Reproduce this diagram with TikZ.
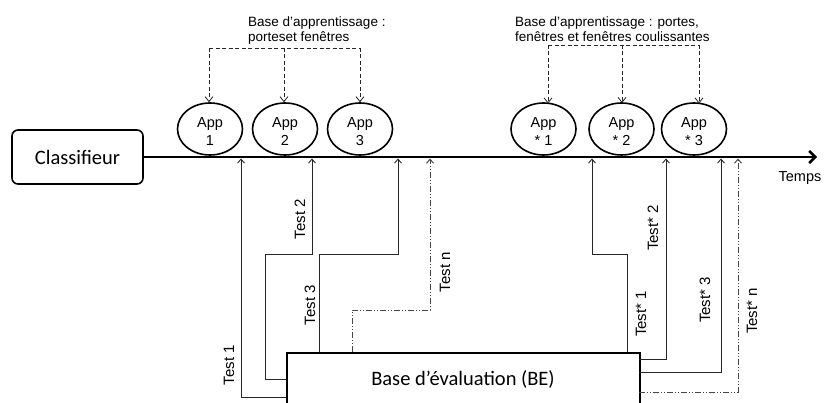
\documentclass[tikz,border=0pt]{standalone}
\usepackage{fontspec}
\setmainfont{Liberation Sans}
\newfontfamily\calfont{Carlito}
\usetikzlibrary{arrows.meta,shapes.geometric}
\begin{document}
\begin{tikzpicture}[x=1pt,y=-1pt,
  appnode/.style={draw,ellipse,line width=1.6pt,minimum width=65pt,minimum height=52pt,inner sep=0pt},
  apptext/.style={align=center,inner sep=0pt,yshift=-3pt,font=\fontsize{14.5}{18}\selectfont},
  testline/.style={line width=0.9pt,draw=black!85,-{Straight Barb[length=4pt,width=7pt]}},
  testn/.style={line width=1pt,draw=black!72,dash pattern=on 6pt off 2pt on 1pt off 2pt on 1pt off 2pt,-{Straight Barb[length=4pt,width=7pt]}},
  learn/.style={line width=0.8pt,draw=black!85,dash pattern=on 4pt off 2.5pt},
  learnarrow/.style={learn,-{Straight Barb[length=5pt,width=8pt]}},
  testlabel/.style={rotate=90,inner sep=0pt,font=\fontsize{15}{15}\selectfont},
  toptext/.style={anchor=base west,inner sep=0pt,font=\fontsize{13.5}{15}\selectfont}]
\useasboundingbox (0,0) rectangle (826,403);

% classifier and time axis
\node[draw,rounded corners=6pt,line width=1.6pt,minimum width=131pt,minimum height=54pt,font=\calfont\fontsize{20.5}{22}\selectfont] (cls) at (77.5,157) {Classifieur};
\coordinate (axend) at (817,157);
\draw[line width=2.5pt,-{Straight Barb[length=6pt,width=12pt]}] (cls.east) -- (axend);
\node[font=\fontsize{14.5}{16}\selectfont] (temps) at (800,178) {Temps};

% learning nodes
\node[appnode,label={[apptext]center:App\\1}] (a1) at (210,129) {};
\node[appnode,label={[apptext]center:App\\2}] (a2) at (285,129) {};
\node[appnode,label={[apptext]center:App\\3}] (a3) at (360,129) {};
\node[appnode,label={[apptext]center:App\\* 1}] (b1) at (543.5,129) {};
\node[appnode,label={[apptext]center:App\\* 2}] (b2) at (621.5,129) {};
\node[appnode,label={[apptext]center:App\\* 3}] (b3) at (694,129) {};

% learning bases
\node[toptext] (l1a) at (248,27) {Base d’apprentissage :};
\node[toptext] (l1b) at (248,42) {porteset fenêtres};
\node[toptext] (l2a) at (515,27) {Base d’apprentissage : portes,};
\node[toptext] (l2b) at (515,42) {fenêtres et fenêtres coulissantes};

\coordinate (g1l) at (209,48);
\coordinate (g1m) at (284,48);
\coordinate (g1r) at (360,48);
\draw[learn] (g1l) -- (g1r);
\draw[learnarrow] (g1l) -- (g1l |- a1.north);
\draw[learnarrow] (g1m) -- (g1m |- a2.north);
\draw[learnarrow] (g1r) -- (g1r |- a3.north);

\coordinate (g2l) at (548,45);
\coordinate (g2m) at (622,45);
\coordinate (g2r) at (699,45);
\draw[learn] (g2l) -- (g2r);
\draw[learnarrow] (g2l) -- (548,103.5);
\draw[learnarrow] (g2m) -- (622,103);
\draw[learnarrow] (g2r) -- (699,103.5);

% evaluation base
\node[draw,line width=2pt,anchor=north west,minimum width=353pt,minimum height=80pt,inner sep=0pt] (be) at (286,352) {};
\node[font=\calfont\fontsize{20.5}{22}\selectfont] (betext) at (463,379) {Base d’évaluation (BE)};

% test connectors (left group)
\coordinate (t1a) at (286,397);  \coordinate (t1b) at (241,158.5);
\coordinate (t2a) at (286,379);  \coordinate (t2b) at (312,158.5);
\coordinate (t3a) at (319,352);  \coordinate (t3b) at (398,158.5);
\coordinate (tna) at (352,352);  \coordinate (tnb) at (430,158.5);
\draw[testline] (t1a) -| (t1b);
\draw[testline] (t2a) -| (265,254) -| (t2b);
\draw[testline] (t3a) |- (398,254) -- (t3b);
\draw[testn] (tna) |- (430,310) -- (tnb);

% test connectors (right group)
\coordinate (s1a) at (627,352);  \coordinate (s1b) at (592,158.5);
\coordinate (s2a) at (639,359);  \coordinate (s2b) at (666,158.5);
\coordinate (s3a) at (639,372);  \coordinate (s3b) at (721,158.5);
\coordinate (sna) at (639,392);  \coordinate (snb) at (738,158.5);
\draw[testline] (s1a) |- (592,254) -- (s1b);
\draw[testline] (s2a) -| (s2b);
\draw[testline] (s3a) -| (s3b);
\draw[testn] (sna) -| (snb);

% labels
\node[testlabel] (lt1) at (229,365) {Test 1};
\node[testlabel] (lt2) at (300,219) {Test 2};
\node[testlabel] (lt3) at (310,305) {Test 3};
\node[testlabel] (ltn) at (445,272) {Test n};
\node[testlabel] (ls1) at (641,314) {Test* 1};
\node[testlabel] (ls2) at (653,228) {Test* 2};
\node[testlabel] (ls3) at (705,300) {Test* 3};
\node[testlabel] (lsn) at (752,311) {Test* n};
\end{tikzpicture}
\end{document}
